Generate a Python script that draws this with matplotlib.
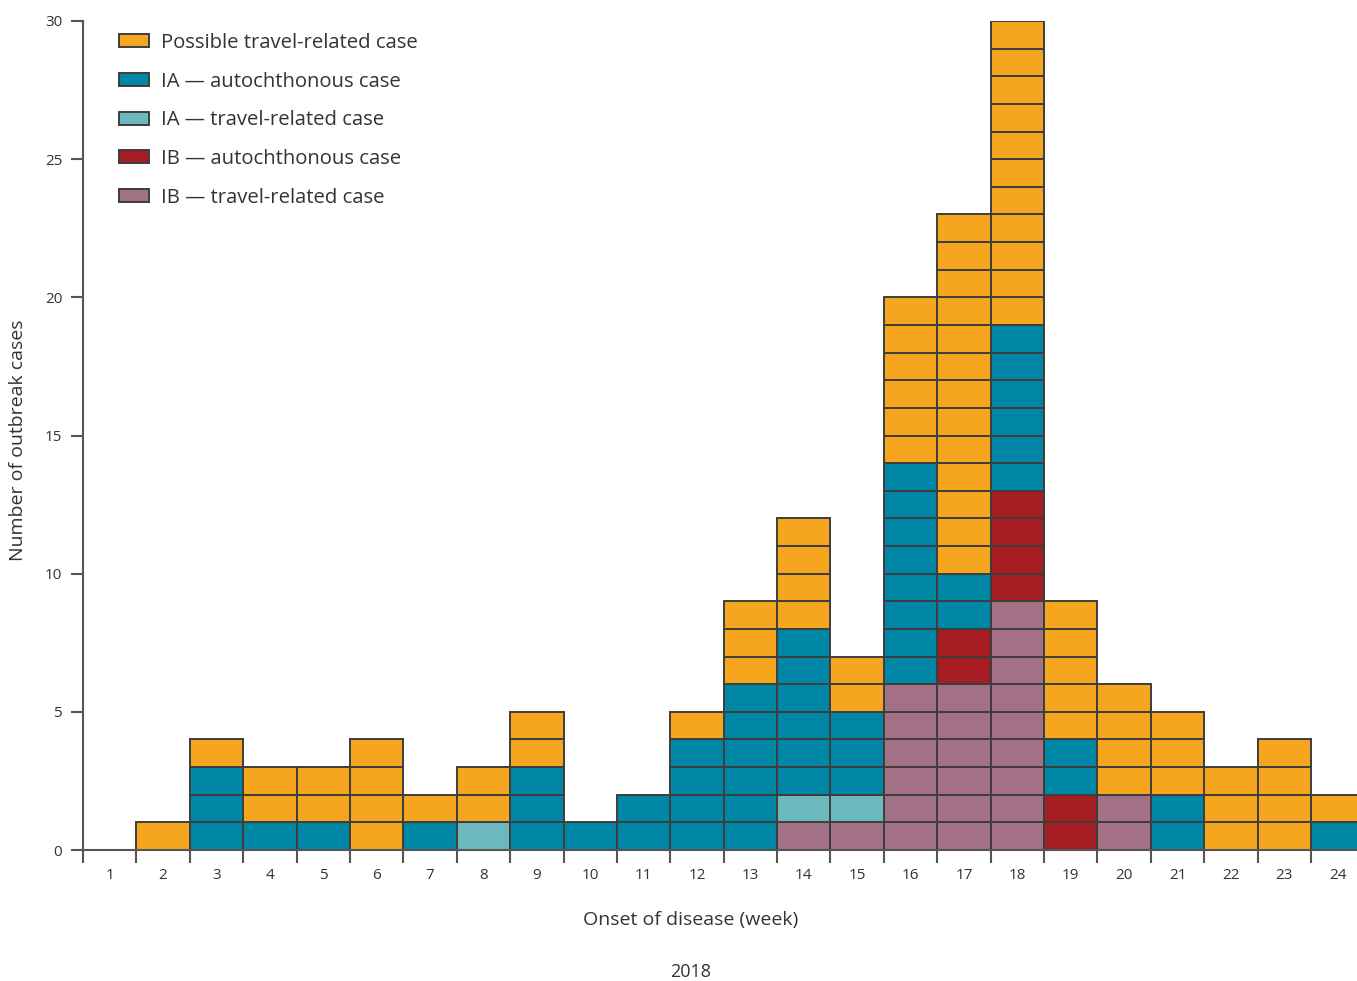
import matplotlib
matplotlib.use("Agg")
import matplotlib.pyplot as plt
from matplotlib.patches import Patch

weeks = list(range(1, 25))
# stack order bottom -> top
ib_travel   = [0,0,0,0,0,0,0,0,0,0,0,0,0,1,1,6,6,9,0,2,0,0,0,0]
ib_auto     = [0,0,0,0,0,0,0,0,0,0,0,0,0,0,0,0,2,4,2,0,0,0,0,0]
ia_travel   = [0,0,0,0,0,0,0,1,0,0,0,0,0,1,1,0,0,0,0,0,0,0,0,0]
ia_auto     = [0,0,3,1,1,0,1,0,3,1,2,4,6,6,3,8,2,6,2,0,2,0,0,1]
possible    = [0,1,1,2,2,4,1,2,2,0,0,1,3,4,2,6,13,11,5,4,3,3,4,1]

series = [
    ("IB — travel-related case", ib_travel, "#A27186"),
    ("IB — autochthonous case", ib_auto, "#A51D22"),
    ("IA — travel-related case", ia_travel, "#6BB9BD"),
    ("IA — autochthonous case", ia_auto, "#0087A6"),
    ("Possible travel-related case", possible, "#F6A51F"),
]
legend_order = [4, 3, 2, 1, 0]

plt.rcParams['font.family'] = ['Open Sans', 'DejaVu Sans']
edge = "#3d3d3d"
txt = "#333333"

fig = plt.figure(figsize=(13.57, 9.81), dpi=100)
ax = fig.add_axes([83/1357, 1-850/981, (1364.4-83)/1357, (850-21)/981])

base = [0]*len(weeks)
for name, vals, col in series:
    for i, w in enumerate(weeks):
        for k in range(vals[i]):
            ax.bar(w, 1, width=1.0, bottom=base[i]+k, color=col,
                   edgecolor=edge, linewidth=1.4, zorder=2)
        base[i] += vals[i]

ax.set_xlim(0.5, 24.5)
ax.set_ylim(0, 30)
for s in ["top", "right"]:
    ax.spines[s].set_visible(False)
for s in ["left", "bottom"]:
    ax.spines[s].set_color("#555555")
    ax.spines[s].set_linewidth(1.5)

ax.set_xticks([w + 0.5 for w in [0] + weeks])
ax.set_xticklabels([])
ax.set_xticks(weeks, minor=True)
ax.set_xticklabels([str(w) for w in weeks], minor=True)
ax.tick_params(axis="x", which="major", length=9, width=1.5, color="#555555", direction="out")
ax.tick_params(axis="x", which="minor", length=0, pad=13, labelsize=11, labelcolor=txt)
ax.set_yticks([0, 5, 10, 15, 20, 25, 30])
ax.tick_params(axis="y", length=9, width=1.5, color="#555555", pad=6, labelsize=11, labelcolor=txt)

fig.text(18/1357, 1-440/981, "Number of outbreak cases", rotation=90,
         ha="center", va="center", fontsize=14, color=txt)
fig.text(691/1357, 1-920/981, "Onset of disease (week)", ha="center", va="center",
         fontsize=14, color=txt)
fig.text(691/1357, 1-972/981, "2018", ha="center", va="center", fontsize=13, color=txt)

handles = [Patch(facecolor=series[i][2], edgecolor=edge, linewidth=1.4) for i in legend_order]
labels = [series[i][0] for i in legend_order]
fig.legend(handles, labels, loc="upper left", bbox_to_anchor=(119/1357, 1-33/981),
           frameon=False, fontsize=14.6, handlelength=1.5, handleheight=0.62,
           handletextpad=0.55, labelspacing=0.92, borderpad=0, borderaxespad=0,
           labelcolor=txt)

fig.savefig("out.png", dpi=100)
